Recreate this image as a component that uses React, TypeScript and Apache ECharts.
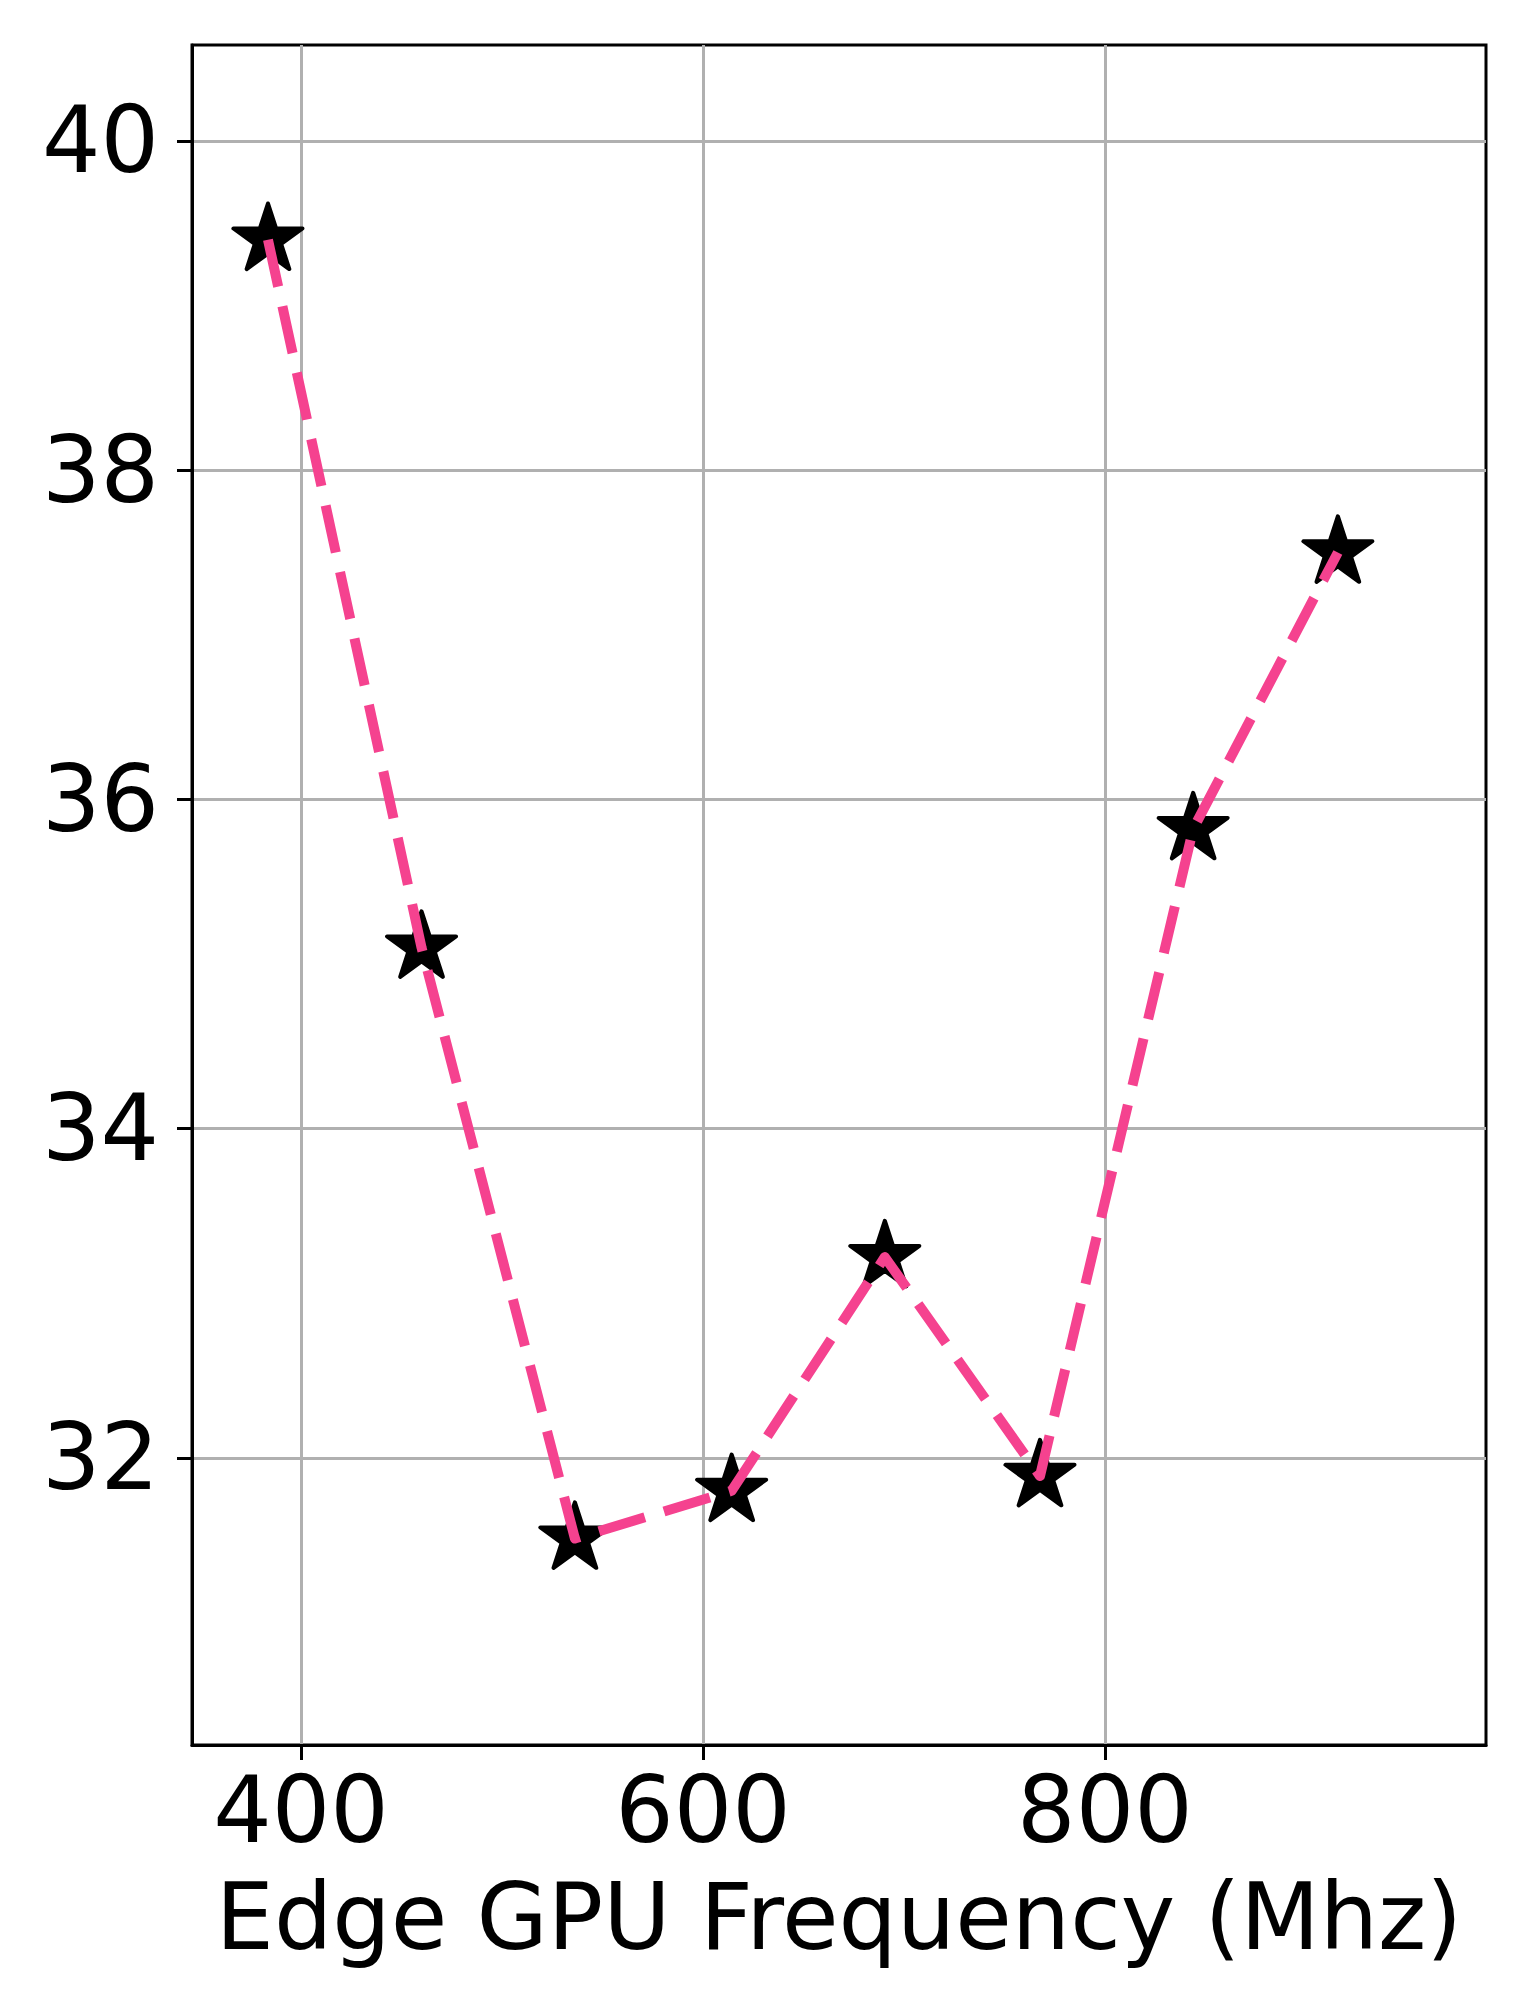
import React, { useEffect, useRef } from "react";
import * as echarts from "echarts";

const freqMhz = [383.6, 460, 536.3, 614.3, 690.5, 767.7, 843.9, 915.9];
const values = [39.4, 35.1, 31.51, 31.8, 33.22, 31.89, 35.82, 37.5];
const xTicks = [400, 600, 800];
const yTicks = [32, 34, 36, 38, 40];
const xLabel = "Edge GPU Frequency (Mhz)";

const STAR =
  "path://M100,0 L122.45,69.1 L195.11,69.1 L136.33,111.8 L158.78,180.9 L100,138.2 L41.22,180.9 L63.67,111.8 L4.89,69.1 L77.55,69.1 Z";

export default function App() {
  const ref = useRef<HTMLDivElement>(null);
  useEffect(() => {
    if (!ref.current) return;
    const chart = echarts.init(ref.current, null, { renderer: "svg" });
    const pts = freqMhz.map((x, i) => [x, values[i]]);
    const font = "DejaVu Sans";
    const fs = 92;
    chart.setOption({
      animation: false,
      backgroundColor: "#fff",
      grid: {
        left: 192,
        top: 45,
        width: 1294,
        height: 1700,
        show: true,
        borderColor: "#000",
        borderWidth: 3,
        backgroundColor: "transparent",
      },
      xAxis: {
        type: "value",
        min: 345.8,
        max: 989.6,
        name: xLabel,
        nameLocation: "middle",
        nameGap: 126.5,
        nameTextStyle: { fontFamily: font, fontSize: fs, color: "#000", lineHeight: fs },
        axisLine: { show: true, lineStyle: { color: "#000", width: 3 } },
        axisTick: { show: true, inside: false, length: 15, lineStyle: { color: "#000", width: 3 }, customValues: xTicks },
        axisLabel: { fontFamily: font, fontSize: fs, color: "#000", margin: 19.5, lineHeight: fs, customValues: xTicks },
        splitLine: { show: true, lineStyle: { color: "#b0b0b0", width: 3 } },
      },
      yAxis: {
        type: "value",
        min: 30.256,
        max: 40.583,
        axisLine: { show: true, lineStyle: { color: "#000", width: 3 } },
        axisTick: { show: true, inside: false, length: 15, lineStyle: { color: "#000", width: 3 }, customValues: yTicks },
        axisLabel: { fontFamily: font, fontSize: fs, color: "#000", margin: 33, customValues: yTicks },
        splitLine: { show: true, lineStyle: { color: "#b0b0b0", width: 3 } },
      },
      series: [
        {
          type: "scatter",
          data: pts,
          symbol: STAR,
          symbolSize: [69, 65.6],
          symbolOffset: [0, -3.46],
          itemStyle: { color: "#000", opacity: 1, borderColor: "#000", borderWidth: 4, borderJoin: "round" },
          z: 2,
        },
        {
          type: "line",
          data: pts,
          showSymbol: false,
          symbol: "none",
          lineStyle: { color: "#F5428F", width: 10, type: [48, 20], cap: "butt", join: "round", opacity: 1 },
          z: 3,
        },
      ],
    });
    return () => chart.dispose();
  }, []);
  return (
    <div
      ref={ref}
      style={{ position: "absolute", left: 0, top: 0, width: 1530, height: 2010 }}
    />
  );
}
